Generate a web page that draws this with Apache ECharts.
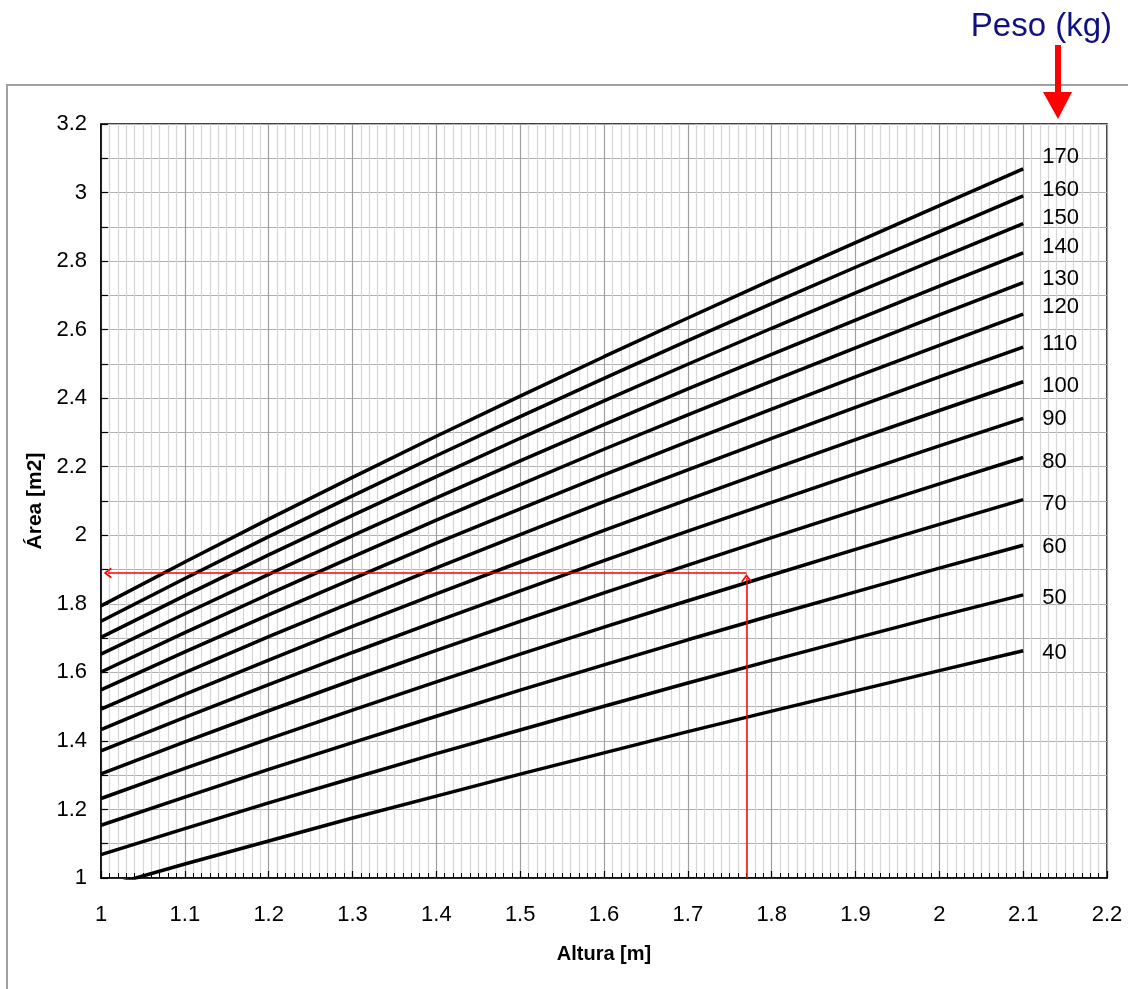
<!DOCTYPE html>
<html>
<head>
<meta charset="utf-8">
<script src="https://cdn.jsdelivr.net/npm/echarts@6/dist/echarts.min.js"></script>
<style>
html,body{margin:0;padding:0;background:#fff;}
#chart{width:1128px;height:989px;}
</style>
</head>
<body>
<div id="chart"></div>
<script>
// ---- data ----
const heights = [1.0, 1.1, 1.2, 1.3, 1.4, 1.5, 1.6, 1.7, 1.8, 1.9, 2.0, 2.1];
const weights = [40, 50, 60, 70, 80, 90, 100, 110, 120, 130, 140, 150, 160, 170];
const area40  = [0.971, 1.041, 1.108, 1.175, 1.239, 1.303, 1.365, 1.427, 1.487, 1.546, 1.605, 1.663];
const area50  = [1.068, 1.144, 1.219, 1.291, 1.363, 1.432, 1.501, 1.569, 1.635, 1.700, 1.764, 1.826];
const area60  = [1.154, 1.236, 1.317, 1.395, 1.472, 1.548, 1.622, 1.695, 1.766, 1.835, 1.904, 1.971];
const area70  = [1.232, 1.320, 1.406, 1.490, 1.572, 1.653, 1.732, 1.809, 1.884, 1.959, 2.032, 2.104];
const area80  = [1.304, 1.397, 1.488, 1.577, 1.664, 1.749, 1.832, 1.913, 1.993, 2.072, 2.150, 2.227];
const area90  = [1.371, 1.469, 1.564, 1.658, 1.749, 1.838, 1.926, 2.012, 2.096, 2.179, 2.261, 2.341];
const area100 = [1.433, 1.536, 1.636, 1.734, 1.829, 1.922, 2.014, 2.104, 2.192, 2.279, 2.364, 2.448];
const area110 = [1.493, 1.599, 1.704, 1.805, 1.905, 2.002, 2.098, 2.191, 2.283, 2.373, 2.462, 2.549];
const area120 = [1.549, 1.660, 1.768, 1.873, 1.977, 2.077, 2.176, 2.273, 2.368, 2.462, 2.554, 2.645];
const area130 = [1.601, 1.716, 1.828, 1.937, 2.044, 2.148, 2.251, 2.351, 2.450, 2.547, 2.643, 2.737];
const area140 = [1.653, 1.771, 1.886, 1.999, 2.109, 2.217, 2.323, 2.427, 2.528, 2.628, 2.727, 2.824];
const area150 = [1.702, 1.824, 1.943, 2.058, 2.171, 2.283, 2.392, 2.499, 2.604, 2.707, 2.809, 2.909];
const area160 = [1.749, 1.874, 1.996, 2.115, 2.232, 2.346, 2.458, 2.568, 2.676, 2.782, 2.886, 2.990];
const area170 = [1.794, 1.922, 2.047, 2.169, 2.289, 2.406, 2.521, 2.634, 2.745, 2.854, 2.962, 3.069];
const areaSeries = [area40, area50, area60, area70, area80, area90, area100, area110, area120, area130, area140, area150, area160, area170];
// example reading (red guide lines): height and resulting area
const exampleHeight = 1.77;
const exampleArea = 1.89;
const xTitle = 'Altura [m]';
const yTitle = 'Área [m2]';
const legendTitle = 'Peso (kg)';

// ---- styling ----
const FONT = '"Liberation Sans", Arial, sans-serif';
const GRID = { left: 101, top: 124, width: 1006, height: 754 };
const X_MIN = 1, X_MAX = 2.2, Y_MIN = 1, Y_MAX = 3.2;
// vertical nudge of end labels (px), so they do not collide
const labelNudge = [2, 3, 2, 4, 4, 1, 4, -3, -7, -4, -6, -6, -6, -12];

const series = weights.map((w, i) => ({
  name: String(w),
  type: 'line',
  data: heights.map((h, j) => [h, areaSeries[i][j]]),
  showSymbol: false,
  symbol: 'none',
  smooth: false,
  clip: true,
  silent: true,
  lineStyle: { color: '#000', width: 3.5 },
  emphasis: { disabled: true },
  endLabel: {
    show: true,
    formatter: '{a}',
    distance: 19,
    offset: [0, labelNudge[i]],
    color: '#000',
    fontSize: 22,
    fontFamily: FONT
  },
  z: 3
}));

// open chevron arrow head; tip pulled back so it lands exactly on the target point
const chevron = 'path://M0,10 L5,0 L10,10 L8.4,10.8 L5,3.6 L1.6,10.8 Z';
const headPx = 5;
const dxHead = headPx * (X_MAX - X_MIN) / GRID.width;
const dyHead = headPx * (Y_MAX - Y_MIN) / GRID.height;
series.push({
  name: 'guide',
  type: 'line',
  data: [],
  silent: true,
  markLine: {
    silent: true,
    animation: false,
    symbol: ['none', chevron],
    symbolSize: [11, 8],
    label: { show: false },
    lineStyle: { color: '#ff0000', width: 1.5, type: 'solid', opacity: 1 },
    emphasis: { disabled: true },
    data: [
      [{ coord: [exampleHeight, Y_MIN] }, { coord: [exampleHeight, exampleArea - dyHead] }],
      [{ coord: [exampleHeight, exampleArea] }, { coord: [heights[0] + dxHead + 0.002, exampleArea] }]
    ]
  },
  z: 4
});

const chart = echarts.init(document.getElementById('chart'), null, { renderer: 'canvas' });
chart.setOption({
  animation: false,
  backgroundColor: '#fff',
  grid: Object.assign({
    show: true, borderColor: '#000', borderWidth: 1.5, backgroundColor: 'transparent',
    containLabel: false
  }, GRID),
  xAxis: {
    type: 'value', min: X_MIN, max: X_MAX, interval: 0.1,
    name: xTitle, nameLocation: 'middle', nameGap: 66,
    nameTextStyle: { fontSize: 20, fontWeight: 'bold', fontFamily: FONT, color: '#000' },
    axisLine: { show: true, onZero: false, lineStyle: { color: '#000', width: 1.5 } },
    axisTick: { show: true, inside: true, length: 7, lineStyle: { color: '#000', width: 1.2 } },
    minorTick: { show: true, splitNumber: 10, length: 5, lineStyle: { color: '#000', width: 1 } },
    axisLabel: {
      margin: 26, fontSize: 22, fontFamily: FONT, color: '#000',
      formatter: v => String(Math.round(v * 10) / 10)
    },
    splitLine: { show: true, lineStyle: { color: '#a0a0a0', width: 1.2 } },
    minorSplitLine: { show: true, lineStyle: { color: '#d6d6d6', width: 1.2 } }
  },
  yAxis: {
    type: 'value', min: Y_MIN, max: Y_MAX, interval: 0.1,
    name: yTitle, nameLocation: 'middle', nameGap: 50, nameRotate: 90,
    nameTextStyle: { fontSize: 21, fontWeight: 'bold', fontFamily: FONT, color: '#000' },
    axisLine: { show: true, onZero: false, lineStyle: { color: '#000', width: 1.5 } },
    axisTick: { show: true, inside: true, length: 7, lineStyle: { color: '#000', width: 1.2 } },
    axisLabel: {
      margin: 14, fontSize: 22, fontFamily: FONT, color: '#000',
      formatter: v => { const r = Math.round(v * 10); return r % 2 === 0 ? String(r / 10) : ''; }
    },
    splitLine: { show: true, lineStyle: { color: '#b0b0b0', width: 1.2 } }
  },
  graphic: [
    { type: 'rect', silent: true, z: -10,
      shape: { x: 7, y: 85, width: 1300, height: 1000 },
      style: { fill: 'none', stroke: '#a0a0a0', lineWidth: 2 } },
    { type: 'text', silent: true, right: 16, top: 10,
      style: { text: legendTitle, fill: '#101080', fontSize: 33, fontFamily: FONT } },
    { type: 'rect', silent: true,
      shape: { x: 1055, y: 45, width: 6, height: 50 },
      style: { fill: '#ff0000' } },
    { type: 'polygon', silent: true,
      shape: { points: [[1043, 92], [1072, 92], [1058, 119]] },
      style: { fill: '#ff0000' } }
  ],
  series: series
});
</script>
</body>
</html>
